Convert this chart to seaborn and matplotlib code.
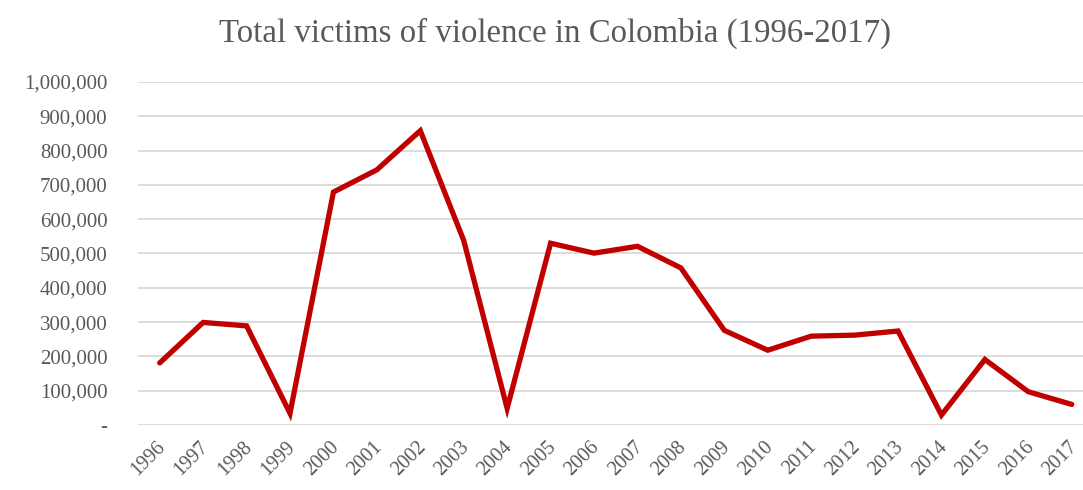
import matplotlib
matplotlib.use("Agg")
import matplotlib.pyplot as plt
import matplotlib.transforms as mtransforms
import seaborn as sns
import pandas as pd

years = [str(y) for y in range(1996, 2018)]
victims = [181000, 299000, 289000, 34000, 679000, 744000, 858000, 538000,
           48500, 530000, 501000, 521000, 458000, 276000, 218000, 259000,
           262000, 274000, 29000, 191000, 97000, 60000]
y_ticks = [0, 100000, 200000, 300000, 400000, 500000, 600000, 700000,
           800000, 900000, 1000000]
y_tick_labels = ["-"] + [f"{v:,}" for v in y_ticks[1:]]
title = "Total victims of violence in Colombia (1996-2017)"

sns.set_theme(style="white")
plt.rcParams['font.family'] = ['Liberation Serif', 'DejaVu Serif']

W, H = 1083, 490
fig = plt.figure(figsize=(W / 100, H / 100), dpi=100)
left, right, bottom, top = 138, 1083, 425, 82
ax = fig.add_axes([left / W, (H - bottom) / H, (right - left) / W, (bottom - top) / H])

df = pd.DataFrame({"year": years, "victims": victims})
sns.lineplot(data=df, x="year", y="victims", ax=ax, color="#C00000",
             linewidth=3.8, sort=False, solid_joinstyle="miter")

step = 43.43
ax.set_xlim(-0.5, (right - left) / step - 0.5)
ax.set_ylim(0, 1000000)
ax.set_yticks(y_ticks)
ax.set_yticklabels(y_tick_labels)
ax.set_xticks(range(len(years)))
ax.set_xticklabels(years, rotation=45, ha="right", rotation_mode="anchor")

ax.grid(axis="y", color="#D9D9D9", linewidth=1.3)
ax.grid(axis="x", visible=False)
ax.set_axisbelow(True)
for s in ax.spines.values():
    s.set_visible(False)
ax.tick_params(axis="y", length=0, pad=22, labelsize=15, labelcolor="#595959")
ax.tick_params(axis="x", length=0, pad=9, labelsize=14.5, labelcolor="#595959")
shift = mtransforms.ScaledTranslation(-4 / 100, 0, fig.dpi_scale_trans)
for lbl in ax.get_xticklabels():
    lbl.set_transform(lbl.get_transform() + shift)
ax.set_xlabel("")
ax.set_ylabel("")
for line in ax.lines:
    line.set_clip_on(False)

fig.text(555 / W, 1 - 33 / H, title, ha="center", va="center",
         fontsize=23.7, color="#595959")

fig.savefig("out.png", dpi=100, facecolor="white")
